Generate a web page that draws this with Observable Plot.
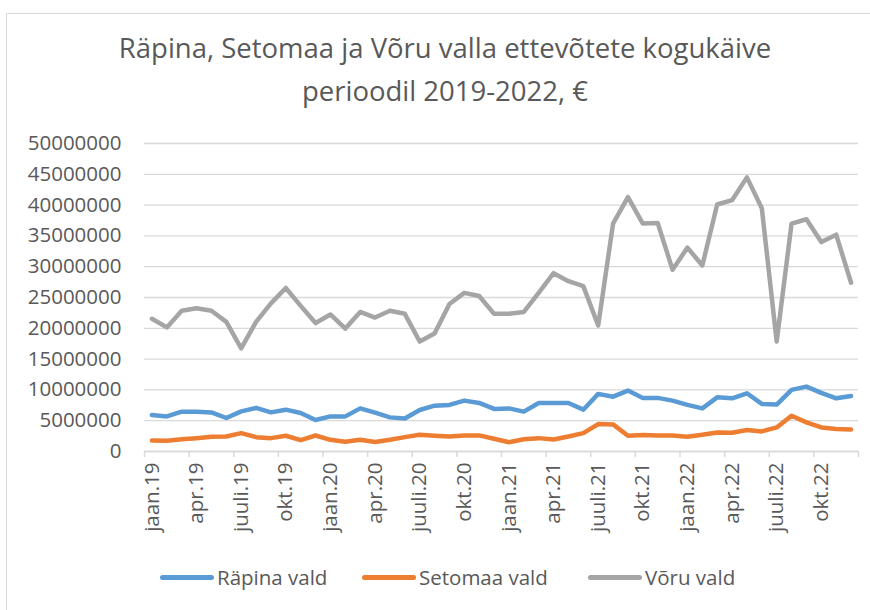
<!DOCTYPE html>
<html>
<head>
<meta charset="utf-8">
<script src="https://cdn.jsdelivr.net/npm/d3@7"></script>
<script src="https://cdn.jsdelivr.net/npm/@observablehq/plot@0.6"></script>
<style>
  html, body { margin: 0; padding: 0; background: #fff; }
  #wrap { position: relative; width: 870px; height: 610px; overflow: hidden; font-family: "Open Sans", sans-serif; color: #595959; }
  #frame { position: absolute; left: 6px; top: 13px; width: 900px; height: 700px; border-left: 1.5px solid #d9d9d9; border-top: 1.5px solid #d9d9d9; }
  #title { position: absolute; left: 0; top: 26px; width: 890px; text-align: center; font-size: 27.5px; line-height: 43px; }
  #chart { position: absolute; left: 0; top: 125px; }
  #legend { position: absolute; left: 0; top: 562px; width: 870px; height: 30px; font-size: 20.5px; }
  .item { position: absolute; top: 0; display: flex; align-items: center; height: 30px; }
  .sw { display: inline-block; width: 54px; height: 5px; border-radius: 3px; margin-right: 3px; }
</style>
</head>
<body>
<div id="wrap">
  <div id="frame"></div>
  <div id="title">Räpina, Setomaa ja Võru valla ettevõtete kogukäive<br>perioodil 2019-2022, €</div>
  <div id="chart"></div>
  <div id="legend"></div>
</div>
<script>
const seriesNames = ["Räpina vald", "Setomaa vald", "Võru vald"];
const seriesColors = ["#5B9BD5", "#ED7D31", "#A5A5A5"];
const tickLabels = ["jaan.19","apr.19","juuli.19","okt.19","jaan.20","apr.20","juuli.20","okt.20",
                    "jaan.21","apr.21","juuli.21","okt.21","jaan.22","apr.22","juuli.22","okt.22"];
const yTicks = [0, 5000000, 10000000, 15000000, 20000000, 25000000, 30000000, 35000000, 40000000, 45000000, 50000000];

const rapina = [5930000, 5700000, 6470000, 6470000, 6350000, 5440000, 6510000, 7070000, 6350000, 6790000, 6250000, 5110000,
                5700000, 5700000, 7000000, 6300000, 5540000, 5370000, 6740000, 7440000, 7560000, 8260000, 7880000, 6910000,
                7000000, 6470000, 7880000, 7880000, 7880000, 6790000, 9350000, 8900000, 9890000, 8700000, 8700000, 8260000,
                7560000, 7000000, 8790000, 8630000, 9450000, 7720000, 7610000, 10000000, 10540000, 9510000, 8630000, 9020000];
const setomaa = [1790000, 1740000, 2000000, 2170000, 2390000, 2440000, 2980000, 2330000, 2170000, 2560000, 1840000, 2600000,
                 1900000, 1580000, 1900000, 1550000, 1900000, 2330000, 2720000, 2560000, 2440000, 2610000, 2610000, 2070000,
                 1510000, 2000000, 2170000, 1950000, 2440000, 2980000, 4450000, 4400000, 2560000, 2670000, 2610000, 2610000,
                 2390000, 2720000, 3090000, 3050000, 3490000, 3260000, 3910000, 5810000, 4720000, 3910000, 3650000, 3580000];
const voru = [21550000, 20150000, 22850000, 23250000, 22850000, 21050000, 16750000, 21050000, 24050000, 26550000, 23650000, 20850000,
              22250000, 19950000, 22650000, 21750000, 22850000, 22350000, 17850000, 19150000, 23950000, 25750000, 25250000, 22350000,
              22350000, 22650000, 25750000, 28950000, 27650000, 26850000, 20450000, 37000000, 41300000, 37000000, 37100000, 29500000,
              33100000, 30200000, 40100000, 40800000, 44500000, 39500000, 17850000, 37000000, 37700000, 34000000, 35200000, 27400000];

const allSeries = [rapina, setomaa, voru];
const rows = [];
allSeries.forEach((arr, s) => arr.forEach((v, i) => rows.push({i, v, series: seriesNames[s]})));

const labelIdx = tickLabels.map((_, k) => k * 3);
const boundaries = d3.range(0, 49, 3).map(k => k - 0.5);

const chart = Plot.plot({
  width: 870,
  height: 420,
  marginLeft: 144,
  marginRight: 12,
  marginTop: 18,
  marginBottom: 94,
  style: { fontFamily: "Open Sans, sans-serif", color: "#595959", background: "transparent" },
  x: { type: "linear", domain: [-0.5, 47.5] },
  y: { domain: [0, 50000000] },
  color: { domain: seriesNames, range: seriesColors },
  marks: [
    Plot.gridY(yTicks, { stroke: "#d9d9d9", strokeOpacity: 1, strokeWidth: 1.3 }),
    Plot.axisY(yTicks, { tickSize: 0, tickPadding: 23, tickFormat: d => String(d), fontSize: 20.5, fill: "#595959", label: null }),
    Plot.ruleY([0], { stroke: "#d9d9d9", strokeWidth: 1.5 }),
    Plot.axisX(boundaries, { tickSize: 6, tickFormat: () => "", stroke: "#d9d9d9", strokeWidth: 1.5, label: null }),
    Plot.axisX(labelIdx, { tickSize: 0, tickPadding: 11, tickRotate: -90, textAnchor: "end", lineAnchor: "middle",
                           tickFormat: i => tickLabels[i / 3], fontSize: 20.5, fill: "#595959", label: null }),
    Plot.line(rows, { x: "i", y: "v", z: "series", stroke: "series", strokeWidth: 4.5,
                      strokeLinejoin: "round", strokeLinecap: "round" })
  ]
});
document.getElementById("chart").appendChild(chart);

const legend = document.getElementById("legend");
const legendLeft = [160, 362, 588];
seriesNames.forEach((name, s) => {
  const it = document.createElement("div");
  it.className = "item";
  it.style.left = legendLeft[s] + "px";
  const sw = document.createElement("span");
  sw.className = "sw";
  sw.style.background = seriesColors[s];
  const tx = document.createElement("span");
  tx.textContent = name;
  it.appendChild(sw);
  it.appendChild(tx);
  legend.appendChild(it);
});
</script>
</body>
</html>
